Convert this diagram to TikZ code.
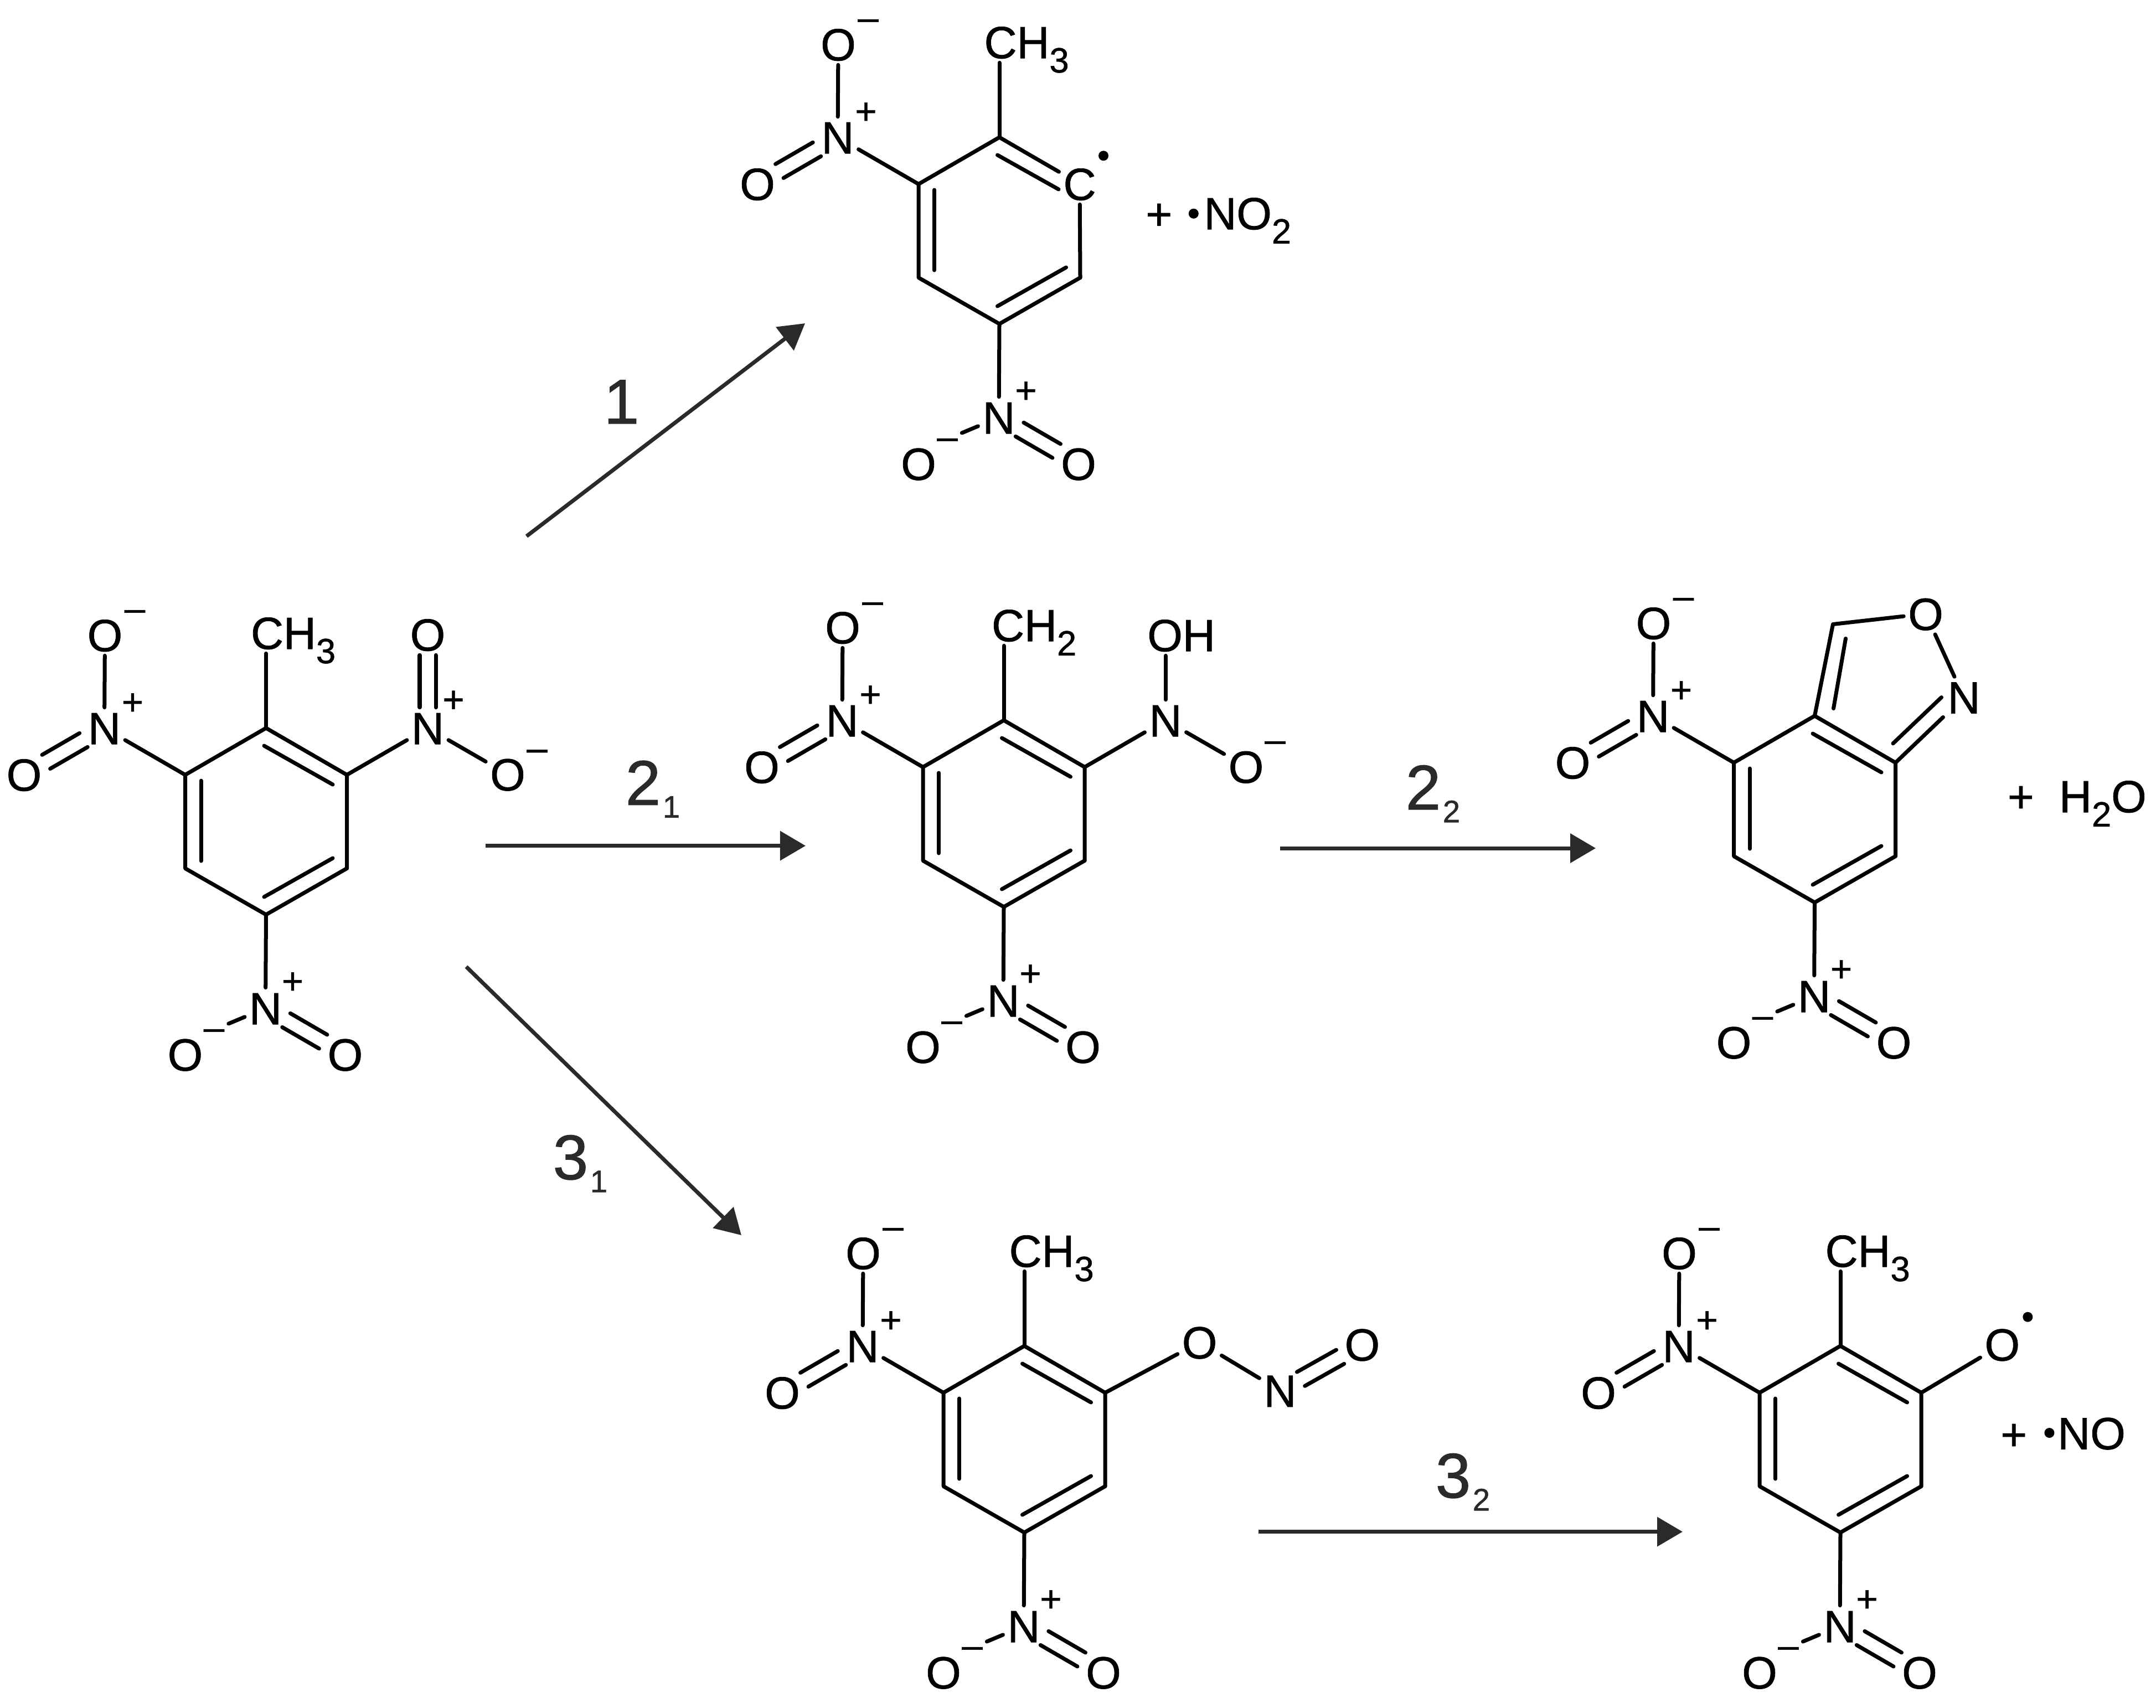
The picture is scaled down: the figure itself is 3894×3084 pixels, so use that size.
\documentclass[tikz,border=0pt]{standalone}
\usepackage{fontspec}
\setmainfont[FakeBold=1]{Liberation Sans}
\usetikzlibrary{arrows.meta,calc}
\definecolor{arrowgray}{HTML}{2B2A29}
\tikzset{
  bond/.style={line width=.07cm,line cap=round,line join=round},
  atom/.style={inner sep=2.1pt,text height=16.6pt,text depth=0pt,font=\fontsize{23.2}{26}\selectfont},
  charge/.style={inner sep=2pt,text height=13.6pt,text depth=0pt,font=\fontsize{19}{22}\selectfont},
  radical/.style={circle,fill=black,inner sep=0pt,minimum size=.18cm},
  reaction/.style={line width=.07cm,color=arrowgray,-{Triangle[length=.46cm,width=.52cm]}},
  steplabel/.style={anchor=base west,inner sep=0pt,text=arrowgray,font=\fontsize{32.5}{36}\selectfont}
}
\newcommand{\atomsub}[1]{\raisebox{-7.3pt}{\fontsize{18}{20}\selectfont #1}}
\newcommand{\stepsub}[1]{\hspace{1pt}\raisebox{-6.6pt}{\fontsize{16}{18}\selectfont #1}}
\newcommand{\chgminus}{\raisebox{1.6pt}{--}}
\newcommand{\dblbond}[2]{
  \path (#1) -- (#2) coordinate[pos=0] (p) coordinate[pos=1] (q);
  \draw[bond] ($(p)!.145cm!90:(q)$) -- ($(q)!.145cm!-90:(p)$);
  \draw[bond] ($(p)!.145cm!-90:(q)$) -- ($(q)!.145cm!90:(p)$);
}
\newcommand{\ringleft}{
  \coordinate (r1) at (0,0);
  \coordinate (r2) at (146,84.5);
  \coordinate (r3) at (146,253.5);
  \coordinate (r4) at (0,337);
  \coordinate (r5) at (-146,253.5);
  \coordinate (r6) at (-146,84.5);
  \coordinate (i1) at (-3.5,32);
  \coordinate (i2) at (120.5,102);
  \coordinate (i3) at (120.5,235);
  \coordinate (i4) at (-3.5,305);
  \coordinate (i5) at (-117.5,240);
  \coordinate (i6) at (-117.5,95);
  \draw[bond] (r3) -- (r4) -- (r5) -- (r6) -- (r1);
  \draw[bond] (i3) -- (i4);
  \draw[bond] (i5) -- (i6);
}
\newcommand{\ringright}{
  \draw[bond] (r3) -- (r2) -- (r1);
  \draw[bond] (i1) -- (i2);
}
\newcommand{\nitrogroups}{
  \node[atom] (nl) at (-292,0) {N};
  \node[atom] (olt) at (-291,-168) {O};
  \node[atom] (oll) at (-437,84) {O};
  \node[charge] (pl) at (-241,-48) {+};
  \node[charge] (ml) at (-237,-212) {\chgminus};
  \draw[bond] (r6) -- (nl);
  \draw[bond] (nl) -- (olt);
  \dblbond{nl}{oll}
  \node[atom] (nb) at (-1,506) {N};
  \node[atom] (obl) at (-146,589.5) {O};
  \node[atom] (obr) at (143,589.5) {O};
  \node[charge] (pb) at (48,456) {+};
  \node[charge] (mb) at (-94,545) {\chgminus};
  \draw[bond] (r4) -- (nb);
  \draw[bond] (nb) -- (mb);
  \dblbond{nb}{obr}
}
\begin{document}
\begin{tikzpicture}[x=.01cm,y=-.01cm]
\useasboundingbox (0,0) rectangle (3894,3084);
\clip (0,0) rectangle (3894,3050);

\begin{scope}[shift={(480.5,1315)},name prefix=a-]
\ringleft
\ringright
\nitrogroups
\node[atom,anchor=west] (me) at (-35.5,-172) {CH\atomsub{3}};
\draw[bond] (r1) -- (r1 |- me.south);
\node[atom] (nr) at (292,0) {N};
\node[atom] (ou) at (292,-169) {O};
\node[atom] (or) at (436.5,83.5) {O};
\node[charge] (pr) at (338.5,-52.6) {+};
\node[charge] (mr) at (489.5,40.4) {\chgminus};
\draw[bond] (r2) -- (nr);
\dblbond{nr}{ou}
\draw[bond] (nr) -- (or);
\end{scope}

\begin{scope}[shift={(1805,248)},name prefix=b-]
\ringleft
\nitrogroups
\node[atom,anchor=west] (me) at (-35.5,-172) {CH\atomsub{3}};
\draw[bond] (r1) -- (r1 |- me.south);
\node[atom] (c) at (145,84) {C};
\node[radical] (cdot) at (188,33.3) {};
\coordinate (ic) at (107,94);
\draw[bond] (r1) -- (c);
\draw[bond] (c) -- (r3);
\draw[bond] (i1) -- (ic);
\node[atom] (plus) at (288.4,137.8) {+};
\node[radical] (ndot) at (350.8,137.8) {};
\node[atom,anchor=west] (no) at (361.4,137) {NO\atomsub{2}};
\end{scope}

\begin{scope}[shift={(1813,1301)},name prefix=c-]
\ringleft
\ringright
\nitrogroups
\node[atom,anchor=west] (me) at (-30,-172) {CH\atomsub{2}};
\draw[bond] (r1) -- (r1 |- me.south);
\node[atom] (nr) at (292,0) {N};
\node[atom,anchor=west] (oh) at (251.3,-154) {OH};
\node[atom] (or) at (437.5,83.7) {O};
\node[charge] (mr) at (490,39) {\chgminus};
\draw[bond] (r2) -- (nr);
\draw[bond] (nr) -- (nr |- oh.south);
\draw[bond] (nr) -- (or);
\end{scope}

\begin{scope}[shift={(3277.5,1293)},name prefix=d-]
\ringleft
\ringright
\nitrogroups
\coordinate (cv) at (33,-165.5);
\node[atom] (ox) at (200.5,-184.4) {O};
\node[atom] (nx) at (269.5,-33.5) {N};
\coordinate (j1) at (34,-13.4);
\coordinate (j2) at (56,-139.7);
\coordinate (j3) at (141.5,49.8);
\coordinate (j4) at (229,-33.5);
\draw[bond] (r1) -- (cv) -- (ox);
\draw[bond] (ox) -- (nx);
\draw[bond] (r2) -- (nx);
\draw[bond] (j1) -- (j2);
\draw[bond] (j3) -- (j4);
\node[atom,anchor=west] (water) at (340.5,145) {+\ \ H\atomsub{2}O};
\end{scope}

\begin{scope}[shift={(1850,2431)},name prefix=e-]
\ringleft
\ringright
\nitrogroups
\node[atom,anchor=west] (me) at (-35.5,-172) {CH\atomsub{3}};
\draw[bond] (r1) -- (r1 |- me.south);
\node[atom] (oe) at (316.6,-6.6) {O};
\node[atom] (ne) at (462,80.8) {N};
\node[atom] (ot) at (610.4,-2.7) {O};
\draw[bond] (r2) -- (oe);
\draw[bond] (oe) -- (ne);
\dblbond{ne}{ot}
\end{scope}

\begin{scope}[shift={(3324,2431)},name prefix=f-]
\ringleft
\ringright
\nitrogroups
\node[atom,anchor=west] (me) at (-35.5,-172) {CH\atomsub{3}};
\draw[bond] (r1) -- (r1 |- me.south);
\node[atom] (oe) at (292.3,-2.7) {O};
\node[radical] (odot) at (338.3,-52.3) {};
\draw[bond] (r2) -- (oe);
\node[atom] (plus) at (313.2,159) {+};
\node[radical] (ndot) at (377.4,157) {};
\node[atom,anchor=west] (no) at (384.3,157.4) {NO};
\end{scope}

\coordinate (s1) at (951,968.5);
\coordinate (e1) at (1454,584);
\coordinate (s21) at (877,1527.6);
\coordinate (e21) at (1455,1527.6);
\coordinate (s22) at (2312,1532);
\coordinate (e22) at (2882,1532);
\coordinate (s31) at (842,1746);
\coordinate (e31) at (1339,2231);
\coordinate (s32) at (2273,2766.6);
\coordinate (e32) at (3039,2766.6);
\draw[reaction] (s1) -- (e1);
\draw[reaction] (s21) -- (e21);
\draw[reaction] (s22) -- (e22);
\draw[reaction] (s31) -- (e31);
\draw[reaction] (s32) -- (e32);
\node[steplabel] (l1) at (1090,765) {1};
\node[steplabel] (l21) at (1129,1453.7) {2\stepsub{1}};
\node[steplabel] (l22) at (2538,1462) {2\stepsub{2}};
\node[steplabel] (l31) at (998,2130) {3\stepsub{1}};
\node[steplabel] (l32) at (2592,2705) {3\stepsub{2}};
\end{tikzpicture}
\end{document}
